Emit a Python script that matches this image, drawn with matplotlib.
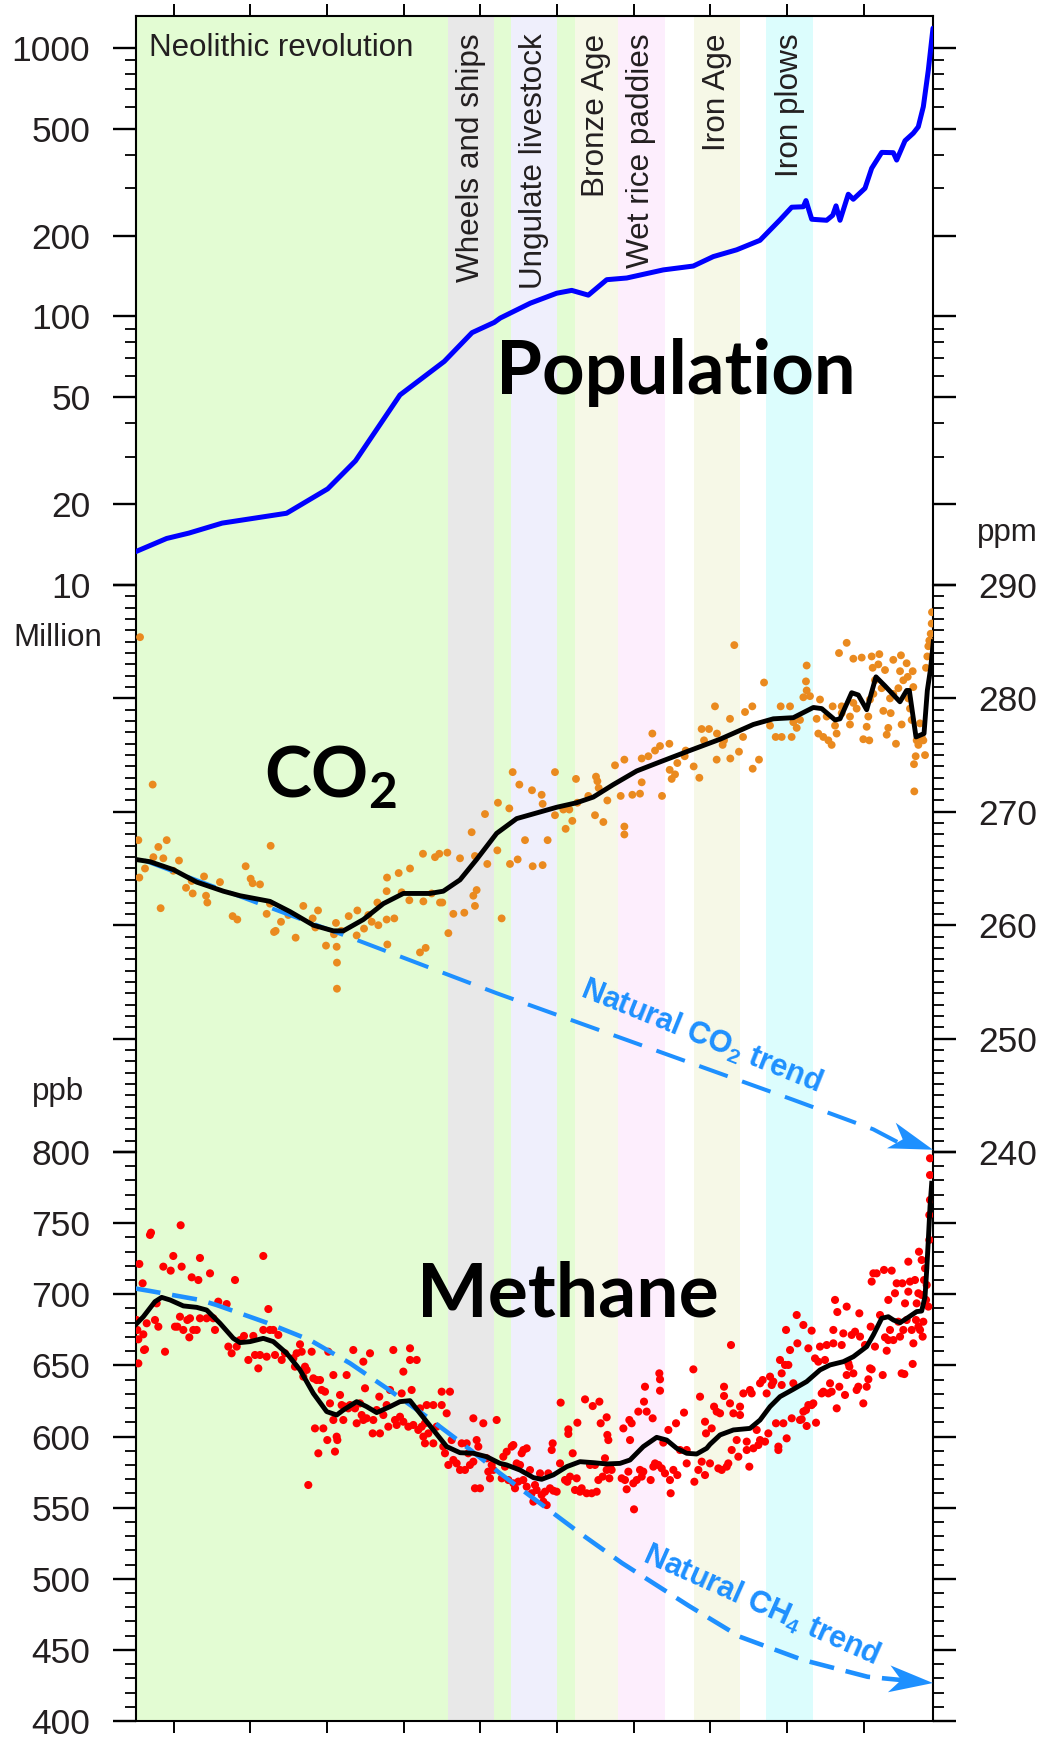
import numpy as np
import matplotlib
matplotlib.use("Agg")
import matplotlib.pyplot as plt
from matplotlib.patches import Polygon
from matplotlib.transforms import IdentityTransform, blended_transform_factory
from matplotlib.ticker import FixedLocator, FixedFormatter, MultipleLocator, NullFormatter

plt.rcParams["font.family"] = ["Liberation Sans", "DejaVu Sans"]
plt.rcParams["mathtext.fontset"] = "custom"
plt.rcParams["mathtext.rm"] = "Lato:bold"
plt.rcParams["mathtext.sf"] = "Liberation Sans:bold"

# ---- time axis (years before present) ----
x_left, x_right = 10500, 97
xtick_years = [10000, 9000, 8000, 7000, 6000, 5000, 4000, 3000, 2000, 1000]

# ---- cultural / technological periods ----
band_names = ["Neolithic revolution", "Wheels and ships", "Ungulate livestock",
              "Bronze Age", "Wet rice paddies", "Iron Age", "Iron plows"]
band_start = [10500, 6425, 5600, 4765, 4212, 3212, 2270]
band_end = [4765, 5830, 5005, 4212, 3590, 2614, 1662]
band_colors = ["#e3fcd3", "#e8e8e8", "#efeffc", "#f6f8e7", "#fdeefd", "#f6f8e7", "#dcfdfd"]

# ---- population (millions) ----
pop_years = [10500, 10094, 9805, 9369, 8529, 7993, 7630, 7050, 6472, 6110, 5820, 5742,
             5350, 5005, 4810, 4593, 4353, 4092, 3615, 3224, 2963, 2658, 2354, 2092,
             1940, 1789, 1754, 1679, 1484, 1405, 1362, 1310, 1202, 1137, 984, 897,
             766, 615, 571, 462, 354, 289, 223, 158, 97]
pop_million = [13.3, 14.9, 15.6, 17.0, 18.5, 22.8, 29, 51, 68, 87, 95, 98.6,
               112, 122, 125, 120, 137, 139, 149, 154, 167, 177, 192, 229,
               255, 256, 270, 230, 228, 238, 258, 228, 285, 273, 300, 356,
               408, 407, 382, 451, 481, 508, 604, 826, 1183]
pop_ticks = [10, 20, 50, 100, 200, 500, 1000]
pop_minor = [30, 40, 60, 70, 80, 90, 300, 400, 600, 700, 800, 900]

# ---- CO2 ice-core samples (ppm) ----
co2_years = [10441, 10463, 10450, 10376, 10276, 10267, 10202, 10172, 10137, 10093,
             10007, 9933, 9841, 9767, 9754, 9606, 9580, 9563, 9398, 9233,
             9172, 9063, 8998, 8972, 8876, 8789, 8737, 8746, 8693, 8672,
             8602, 8506, 8411, 8311, 8189, 8154, 8119, 8015, 7911, 7885,
             7876, 7872, 7872, 7815, 7719, 7615, 7606, 7519, 7463, 7419,
             7332, 7345, 7224, 7215, 7224, 7219, 7124, 7067, 7028, 6928,
             6919, 6789, 6745, 6715, 6750, 6637, 6593, 6537, 6528, 6498,
             6432, 6419, 6354, 6267, 6211, 6115, 6093, 6072, 6072, 6050,
             5941, 5911, 5780, 5772, 5724, 5624, 5615, 5580, 5515, 5493,
             5419, 5328, 5319, 5202, 5189, 5189, 5124,
             5028, 5028, 4919, 4889, 4841, 4802, 4754, 4736, 4593, 4506,
             4493, 4475, 4458, 4397, 4345, 4245, 4171, 4123, 4123, 4123,
             4019, 3919, 3897, 3897, 3810, 3758, 3723, 3658, 3632, 3536,
             3532, 3506, 3462, 3432, 3336, 3323, 3219, 3145, 3115, 3084,
             3019, 2941, 2919, 2915, 2841, 2823, 2745, 2741, 2689, 2628,
             2575, 2549, 2454, 2449, 2367, 2301, 2223, 2149, 2084, 2071,
             1962, 1941, 1919, 1875, 1832, 1788, 1754, 1745, 1745, 1702,
             1615, 1593, 1571, 1528, 1484, 1462, 1419, 1406, 1375, 1354,
             1323, 1288, 1223, 1180, 1180, 1136, 1093, 1027, 1006, 962,
             941, 928, 919, 897, 884, 854, 810, 797, 767, 745,
             723, 701, 680, 658, 649, 615, 580, 549, 527, 515,
             506, 484, 441, 427, 419, 397, 375, 362, 345, 341,
             323, 310, 288, 267, 245, 223, 201, 188, 171, 158,
             145, 127, 114, 110, 354, 615, 875, 1136, 1288]
co2_ppm = [285.4, 267.5, 264.2, 265.0, 272.4, 266.0, 266.9, 261.5, 265.9, 267.5,
           264.8, 265.7, 263.3, 263.9, 262.8, 264.3, 262.6, 262.0, 263.8, 260.8,
           260.5, 265.2, 264.1, 263.7, 263.6, 261.0, 267.0, 261.9, 259.4, 259.5,
           260.3, 260.9, 258.9, 261.7, 260.6, 259.8, 261.3, 258.2, 259.2, 260.2,
           258.1, 256.7, 254.4, 259.5, 260.8, 259.1, 261.3, 259.7, 260.9, 260.3,
           260.0, 262.0, 260.5, 258.3, 263.0, 264.2, 260.6, 264.6, 262.9, 262.2,
           265.0, 257.6, 262.1, 258.0, 266.3, 262.8, 266.0, 266.3, 262.0, 262.0,
           266.4, 259.3, 261.0, 265.9, 261.1, 268.2, 262.6, 266.1, 261.7, 263.1,
           269.8, 265.4, 266.6, 270.8, 260.6, 270.3, 265.4, 273.5, 265.8, 272.4,
           267.5, 271.9, 265.2, 271.5, 270.7, 265.3, 267.5,
           273.5, 269.7, 270.2, 268.5, 270.2, 269.2, 272.9, 270.8, 271.4, 269.7,
           273.1, 272.7, 272.1, 269.1, 271.0, 274.1, 271.4, 274.6, 268.7, 268.0,
           271.5, 271.6, 274.7, 272.6, 274.9, 276.9, 275.4, 275.8, 271.4, 276.0,
           273.7, 272.9, 273.3, 274.3, 274.9, 275.4, 274.0, 273.0, 277.3, 276.3,
           277.3, 279.3, 274.6, 276.9, 275.9, 276.3, 278.2, 274.7, 284.7, 275.3,
           276.6, 278.8, 279.3, 273.8, 274.6, 281.4, 277.6, 276.6, 279.3, 276.6,
           279.3, 276.6, 277.9, 277.4, 278.1, 280.1, 281.5, 282.9, 280.7, 280.2,
           278.2, 276.9, 279.9, 276.6, 278.4, 276.3, 275.9, 279.3, 277.6, 276.9,
           284.0, 279.3, 284.9, 278.4, 277.7, 283.5, 279.1, 283.6, 276.4, 277.5,
           278.4, 276.3, 279.9, 283.7, 282.7, 281.6, 283.0, 283.9, 280.9, 278.9,
           282.5, 276.8, 277.4, 280.0, 278.7, 283.4, 276.0, 280.9, 282.4, 283.8,
           277.7, 281.6, 283.1, 281.9, 280.0, 279.1, 278.1, 282.4, 274.2, 271.8,
           274.9, 276.3, 275.9, 277.8, 276.6, 276.3, 275.0, 282.7, 283.7, 284.6,
           285.1, 285.7, 286.6, 287.6, 281.0, 280.4, 280.4, 279.6, 278.7]

# smoothed CO2 record
co2_fit_years = [10502, 10311, 10007, 9702, 9354, 9137, 8746, 8485, 8180, 7919,
                 7789, 7528, 7267, 7006, 6658, 6485, 6267, 6050, 5789, 5528,
                 5267, 5006, 4745, 4528, 4267, 3962, 3658, 3310, 2875, 2441,
                 2180, 1919, 1658, 1549, 1375, 1310, 1158, 1071, 962, 841,
                 723, 528, 441, 406, 319, 214, 171, 127, 93]
co2_fit_ppm = [265.8, 265.6, 264.9, 263.8, 263.0, 262.6, 262.1, 261.2, 260.0, 259.5,
               259.5, 260.5, 261.9, 262.8, 262.8, 263.0, 264.0, 265.8, 268.1, 269.4,
               269.9, 270.4, 270.8, 271.3, 272.4, 273.6, 274.4, 275.3, 276.4, 277.7,
               278.2, 278.3, 279.2, 279.1, 278.1, 278.2, 280.5, 280.3, 279.0, 281.9,
               281.1, 279.7, 280.7, 280.7, 276.6, 276.9, 280.7, 282.7, 285.0]

# natural CO2 trend (no land use)
co2_trend_years = [10384, 8768, 7614, 5788, 1919, 876, 97]
co2_trend_ppm = [265.7, 261.6, 258.7, 254.0, 244.6, 242.0, 240.2]

# ---- CH4 ice-core samples (ppb) ----
ch4_years = [10485, 10476, 10463, 10463, 10450, 10407, 10398, 10389, 10376, 10354,
             10311, 10298, 10246, 10224, 10202, 10137, 10115, 10041, 10007, 9985,
             9954, 9920, 9911, 9898, 9876, 9824, 9798, 9789, 9767, 9746,
             9702, 9680, 9659, 9659, 9572, 9528, 9485, 9463, 9420, 9311,
             9289, 9246, 9202, 9180, 9137, 9085, 9028, 8963, 8941, 8898,
             8876, 8833, 8833, 8789, 8767, 8746, 8702, 8680, 8637, 8593,
             8550, 8441, 8420, 8398, 8354, 8332, 8289, 8311, 8267, 8246,
             8202, 8180, 8159, 8137, 8115, 8093, 8072, 8050, 8028, 7998,
             7985, 7963, 7919, 7919, 7898, 7876, 7867, 7832, 7811, 7789,
             7767, 7746, 7724, 7702, 7659, 7637, 7615, 7572, 7550, 7528,
             7528, 7506, 7485, 7441, 7406, 7398, 7354, 7320, 7311, 7267,
             7224, 7202, 7180, 7137, 7115, 7093, 7050, 7028, 7006, 7006,
             6941, 6919, 6919, 6898, 6876, 6832, 6811, 6789, 6767, 6745,
             6724, 6724, 6702, 6680, 6615, 6615, 6572, 6506, 6506, 6485,
             6463, 6441, 6419, 6398, 6376, 6354, 6311, 6267, 6245, 6202,
             6180, 6159, 6137, 6093, 6093, 6072, 6050, 6028, 6006, 5963,
             5919, 5898, 5876, 5854, 5832, 5789,
             5723, 5702, 5680, 5658, 5636, 5593, 5571, 5571, 5549, 5528,
             5506, 5484, 5463, 5441, 5441, 5397, 5397, 5354, 5332, 5310,
             5289, 5267, 5223, 5202, 5180, 5158, 5136, 5115, 5093, 5071,
             5058, 5049, 5006, 4962, 4954, 4897, 4867, 4854, 4854, 4832,
             4797, 4767, 4745, 4736, 4702, 4680, 4636, 4615, 4571, 4549,
             4536, 4506, 4484, 4462, 4449, 4432, 4406, 4376, 4354, 4354,
             4345, 4332, 4319, 4310, 4289, 4158, 4136, 4115, 4093, 4071,
             4058, 4049, 4028, 4006, 3997, 3962, 3941, 3919, 3897, 3876,
             3867, 3854, 3832, 3780, 3754, 3745, 3723, 3680, 3667, 3658,
             3658, 3636, 3615, 3593, 3549, 3528, 3519, 3484, 3449, 3432,
             3397, 3345, 3310, 3310, 3223, 3210, 3158,
             3136, 3114, 3071, 3058, 3071, 3006, 2984, 2953, 2919, 2897,
             2875, 2853, 2823, 2823, 2788, 2767, 2745, 2723, 2732, 2701,
             2658, 2636, 2614, 2614, 2571, 2527, 2527, 2493, 2484, 2462,
             2440, 2397, 2375, 2353, 2353, 2319, 2288, 2267, 2245, 2223,
             2201, 2180, 2145, 2114, 2114, 2093, 2071, 2071, 2049, 2027,
             2014, 2006, 1984, 1962, 1940, 1919, 1875, 1866, 1832, 1810,
             1788, 1788, 1753, 1745, 1723, 1723, 1680, 1680, 1658, 1636,
             1623, 1593, 1571, 1549, 1527, 1506, 1484, 1462, 1440, 1419,
             1397, 1397, 1375, 1353, 1345, 1319, 1288, 1267, 1245, 1223,
             1223, 1201, 1188, 1158, 1136, 1114, 1093, 1071, 1058, 1049,
             1006, 984, 962, 940, 918, 910, 897, 897, 875, 854,
             832, 788, 753, 736, 723, 701, 680, 680, 658, 636,
             614, 593, 571, 549, 527, 506, 497, 484, 471, 462,
             440, 419, 419, 397, 375, 362, 353, 332, 319, 310,
             288, 288, 280, 266, 245, 245, 232, 223, 214, 201,
             188, 179, 158, 145, 145, 136, 136, 136]
ch4_ppb = [681.9, 674.9, 668.3, 651.4, 721.3, 707.7, 671.8, 660.8, 661.3, 679.6,
           741.7, 743.3, 681.9, 693.6, 677.2, 719.4, 659.6, 716.6, 726.9, 677.2,
           677.2, 684.2, 748.5, 719.4, 674.9, 681.9, 669.7, 683.1, 711.9, 674.9,
           674.9, 710.0, 725.5, 683.1, 683.1, 714.7, 683.1, 674.9, 694.8, 693.1,
           663.2, 658.5, 710.0, 663.2, 667.8, 670.7, 653.8, 670.7, 657.3, 647.9,
           657.3, 726.9, 674.9, 656.1, 689.6, 674.9, 674.9, 657.3, 671.4, 653.8,
           658.5, 655.0, 649.1, 658.5, 664.8, 659.6, 649.1, 642.1, 646.8, 565.9,
           659.6, 640.9, 605.7, 639.7, 588.2, 639.7, 632.7, 605.7, 631.5, 597.5,
           659.6, 623.3, 611.6, 643.2, 589.4, 599.9, 597.5, 629.2, 622.1, 611.6,
           621.0, 643.2, 619.8, 622.1, 660.8, 619.8, 609.3, 623.3, 615.1, 652.6,
           611.6, 633.9, 612.8, 658.5, 602.2, 611.6, 618.6, 628.0, 602.2, 615.1,
           622.1, 606.9, 632.7, 660.8, 611.6, 608.1, 613.9, 630.3, 610.4, 645.6,
           606.9, 662.0, 653.8, 632.7, 608.1, 653.8, 604.6, 619.8, 606.9, 599.9,
           609.3, 595.2, 622.1, 602.2, 622.1, 595.2, 606.9, 622.1, 631.5, 592.9,
           588.2, 616.3, 580.0, 631.5, 597.5, 583.5, 581.1, 576.5, 595.2, 576.5,
           595.2, 588.2, 580.0, 612.8, 582.3, 563.6, 597.5, 592.9, 563.6, 609.3,
           584.7, 575.3, 570.6, 580.0, 576.5, 611.6,
           570.6, 585.8, 578.8, 589.3, 569.4, 592.9, 594.0, 567.1, 563.6, 581.1,
           568.3, 580.0, 588.2, 569.4, 590.5, 591.7, 564.7, 576.4, 560.1, 554.2,
           565.9, 562.4, 574.1, 558.9, 554.2, 561.2, 551.8, 574.1, 563.6, 590.5,
           595.2, 561.9, 561.2, 581.1, 623.8, 569.4, 568.2, 605.0, 601.8, 571.8,
           588.2, 562.4, 570.6, 609.7, 561.2, 563.6, 626.1, 560.1, 580.0, 560.1,
           621.4, 580.0, 561.2, 569.4, 624.5, 609.3, 571.8, 584.7, 613.5, 576.5,
           601.1, 597.5, 570.6, 578.8, 576.5, 570.6, 605.7, 569.4, 562.9, 575.3,
           611.6, 597.5, 609.3, 567.1, 548.8, 569.4, 617.5, 576.5, 571.8, 575.3,
           624.5, 635.0, 617.5, 569.4, 612.8, 578.8, 581.1, 580.0, 644.4, 640.2,
           632.2, 577.6, 595.7, 574.1, 604.6, 569.4, 560.1, 576.5, 609.3, 572.9,
           590.5, 616.8, 581.1, 590.5, 647.2, 568.2, 576.5,
           628.0, 582.3, 572.9, 602.2, 610.4, 581.1, 605.7, 621.0, 617.5, 577.6,
           616.3, 576.5, 635.0, 628.5, 578.8, 581.1, 623.3, 590.5, 664.3, 616.3,
           597.5, 585.8, 621.0, 615.1, 630.3, 596.4, 590.5, 578.8, 632.7, 630.3,
           591.7, 604.6, 594.0, 597.5, 637.4, 639.7, 596.4, 630.3, 602.2, 642.1,
           636.2, 638.6, 609.3, 592.9, 590.5, 653.8, 644.4, 636.2, 609.3, 650.3,
           674.9, 598.7, 650.3, 660.8, 612.8, 637.4, 685.4, 665.5, 611.6, 612.1,
           678.4, 617.5, 618.6, 607.4, 662.0, 622.1, 674.4, 622.1, 623.3, 654.9,
           609.7, 652.6, 663.2, 630.3, 631.5, 653.8, 664.3, 630.3, 637.4, 631.5,
           665.5, 674.9, 696.0, 619.8, 687.5, 635.0, 664.3, 672.5, 629.2, 691.3,
           643.2, 651.4, 649.1, 671.4, 644.4, 673.7, 632.7, 635.0, 686.6, 670.2,
           623.3, 664.3, 635.0, 640.2, 647.9, 677.2, 647.2, 708.9, 714.7, 663.2,
           714.7, 685.4, 643.2, 717.1, 669.7, 660.3, 696.0, 667.8, 674.9, 716.6,
           667.8, 700.7, 707.7, 680.7, 670.2, 644.4, 707.7, 674.9, 643.9, 693.6,
           681.9, 701.8, 722.9, 708.9, 674.9, 651.0, 665.5, 710.0, 681.9, 693.6,
           700.7, 677.2, 729.9, 674.9, 699.5, 724.1, 670.2, 680.7, 710.0, 718.2,
           696.0, 706.5, 691.3, 738.2, 755.7, 766.3, 783.8, 795.6]

# smoothed CH4 record
ch4_fit_years = [10502, 10398, 10246, 10159, 10050, 9876, 9702, 9572, 9398, 9224,
                 9137, 9006, 8833, 8702, 8528, 8354, 8180, 8006, 7876, 7789,
                 7615, 7485, 7354, 7180, 7050, 6919, 6789, 6615, 6441, 6267,
                 6093, 5919, 5745, 5658, 5484, 5310, 5202, 5049, 4875, 4702,
                 4528, 4354, 4180, 4049, 3876, 3702, 3571, 3441, 3310, 3180,
                 3049, 3006, 2875, 2701, 2484, 2353, 2223, 2093, 1919, 1745,
                 1571, 1440, 1267, 1136, 962, 875, 766, 680, 614, 527,
                 419, 310, 245, 201, 179, 158, 136, 114]
ch4_fit_ppb = [678.4, 684.2, 694.8, 697.8, 696.0, 691.8, 690.8, 688.9, 679.6, 669.0,
               666.0, 666.7, 669.0, 666.7, 658.5, 646.8, 630.3, 617.5, 615.1, 618.6,
               624.5, 621.0, 616.8, 621.0, 624.5, 625.2, 616.3, 604.6, 592.9, 588.6,
               588.2, 585.8, 581.1, 580.0, 576.4, 571.1, 569.9, 573.0, 578.8, 582.3,
               581.6, 580.7, 581.1, 583.5, 592.9, 599.4, 597.5, 591.7, 588.2, 587.7,
               591.7, 594.5, 601.1, 604.6, 605.7, 611.6, 621.0, 628.0, 633.2, 638.6,
               646.8, 650.3, 652.6, 656.1, 663.2, 671.4, 683.1, 684.2, 681.9, 680.0,
               683.8, 687.8, 688.2, 698.3, 717.1, 738.2, 761.6, 778.0]

# natural CH4 trend
ch4_trend_years = [10500, 10311, 9659, 9441, 8789, 8224, 7702, 7223, 6701, 6267,
                   5745, 4701, 4153, 3283, 2619, 1800, 951, 97]
ch4_trend_ppb = [704.0, 702.3, 696.0, 692.4, 680.0, 667.8, 651.5, 633.9, 613.9, 596.3,
                 574.1, 532.0, 511.0, 481.0, 459.3, 443.0, 431.1, 426.7]

# ---- figure layout (pixels) ----
W, H = 1053, 1742
L, R = 135.5, 933
TOP, Y_POP, Y_CO2, BOT = 16.5, 585, 1152, 1721
INK = "#231f20"
TREND_BLUE = "#1e90ff"


def rect(x0, y0, x1, y1):
    return [x0 / W, 1 - y1 / H, (x1 - x0) / W, (y1 - y0) / H]


def arrow_head(ax, p_from, p_to, length=44, half=13.5, notch=12):
    a = ax.transData.transform(p_from)
    b = ax.transData.transform(p_to)
    u = (b - a) / np.hypot(*(b - a))
    n = np.array([-u[1], u[0]])
    pts = [b, b - length * u + half * n, b - (length - notch) * u, b - length * u - half * n]
    ax.add_patch(Polygon(pts, closed=True, transform=IdentityTransform(),
                         facecolor=TREND_BLUE, edgecolor="none", clip_on=False, zorder=6))


fig = plt.figure(figsize=(W / 100, H / 100), dpi=100)

bg = fig.add_axes(rect(L, TOP, R, BOT), zorder=0)
bg.set_xlim(x_left, x_right)
bg.set_ylim(0, 1)
bg.axis("off")
for s, e, c in zip(band_start, band_end, band_colors):
    bg.axvspan(s, e, color=c, lw=0)

ax_pop = fig.add_axes(rect(L, TOP, R, Y_POP), zorder=2)
ax_co2 = fig.add_axes(rect(L, Y_POP, R, Y_CO2), zorder=2)
ax_ch4 = fig.add_axes(rect(L, Y_CO2, R, BOT), zorder=2)

for ax in (ax_pop, ax_co2, ax_ch4):
    ax.set_facecolor("none")
    ax.set_xlim(x_left, x_right)
    ax.set_xticks(xtick_years)
    for sp in ax.spines.values():
        sp.set_linewidth(1.5)
    ax.tick_params(axis="y", which="major", direction="out", length=16.5, width=1.7,
                   labelsize=25.5, pad=16, labelcolor=INK, left=True, right=True)
    ax.tick_params(axis="y", which="minor", direction="out", length=8, width=1.3,
                   left=True, right=True)
    ax.tick_params(axis="x", which="major", direction="out", length=8.6, width=1.4,
                   labelbottom=False, labeltop=False)
    ax.tick_params(axis="x", which="minor", bottom=False, top=False)

ax_pop.spines["bottom"].set_visible(False)
ax_co2.spines["top"].set_visible(False)
ax_co2.spines["bottom"].set_visible(False)
ax_ch4.spines["top"].set_visible(False)
ax_pop.tick_params(axis="x", top=True, bottom=False)
ax_co2.tick_params(axis="x", top=False, bottom=False)
ax_ch4.tick_params(axis="x", top=False, bottom=True)

# population panel
ax_pop.set_yscale("log")
ax_pop.set_ylim(10, 1308)
ax_pop.yaxis.set_major_locator(FixedLocator(pop_ticks))
ax_pop.yaxis.set_major_formatter(FixedFormatter([str(v) for v in pop_ticks]))
ax_pop.yaxis.set_minor_locator(FixedLocator(pop_minor))
ax_pop.yaxis.set_minor_formatter(NullFormatter())
ax_pop.tick_params(axis="y", labelleft=True, labelright=False)
ax_pop.plot(pop_years, pop_million, color="#0000ff", lw=3.6, solid_joinstyle="round",
            solid_capstyle="round", zorder=4)

# CO2 panel
ax_co2.set_ylim(240, 290)
ax_co2.yaxis.set_major_locator(MultipleLocator(10))
ax_co2.yaxis.set_minor_locator(MultipleLocator(1))
ax_co2.tick_params(axis="y", labelleft=False, labelright=True)
ax_co2.scatter(co2_years, co2_ppm, s=32, color="#ea8a1f", edgecolors="none", zorder=3)
ax_co2.plot(co2_trend_years[:-1] + [co2_trend_years[-1] + 300], co2_trend_ppm[:-1] + [co2_trend_ppm[-1] + 0.1],
            color=TREND_BLUE, lw=2.9, ls=(0, (7.5, 3.8)), zorder=4)
ax_co2.plot(co2_fit_years, co2_fit_ppm, color="black", lw=3.5, solid_joinstyle="round", zorder=5)

# CH4 panel
ax_ch4.set_ylim(400, 800)
ax_ch4.yaxis.set_major_locator(MultipleLocator(50))
ax_ch4.yaxis.set_minor_locator(MultipleLocator(10))
ax_ch4.tick_params(axis="y", labelleft=True, labelright=False)
ax_ch4.scatter(ch4_years, ch4_ppb, s=34, color="#ff0000", edgecolors="none", zorder=3)
ax_ch4.plot(ch4_trend_years[:-1] + [ch4_trend_years[-1] + 300], ch4_trend_ppb[:-1] + [ch4_trend_ppb[-1] + 1.5],
            color=TREND_BLUE, lw=3.3, ls=(0, (5.5, 2.6)), zorder=4)
ax_ch4.plot(ch4_fit_years, ch4_fit_ppb, color="black", lw=3.5, solid_joinstyle="round", zorder=5)

arrow_head(ax_co2, (co2_trend_years[-2], co2_trend_ppm[-2]), (co2_trend_years[-1], co2_trend_ppm[-1]))
arrow_head(ax_ch4, (ch4_trend_years[-2], ch4_trend_ppb[-2]), (ch4_trend_years[-1], ch4_trend_ppb[-1]))

# period labels
top_tf = blended_transform_factory(ax_pop.transData, ax_pop.transAxes)
ax_pop.text(10324, 0.971, band_names[0], transform=top_tf, ha="left", va="top",
            fontsize=22.5, color=INK, zorder=6)
for name, s, e in zip(band_names[1:], band_start[1:], band_end[1:]):
    ax_pop.text((s + e) / 2, 0.97, name, transform=top_tf, rotation=90, ha="center", va="top",
                fontsize=22.7, color=INK, zorder=6)

# panel titles
ax_pop.text(3449, 51.4, "Population", ha="center", va="baseline", fontsize=53.5,
            family="Lato", fontweight="bold", zorder=6)
ax_co2.text(8818, 271.25, r"CO$_\mathrm{2}$", ha="left", va="baseline", fontsize=51,
            family="Lato", fontweight="bold", zorder=6)
ax_ch4.text(4863, 684.5, "Methane", ha="center", va="baseline", fontsize=54,
            family="Lato", fontweight="bold", zorder=6)

ax_co2.text(3120, 250.2, r"Natural CO$_\mathsf{2}$ trend", rotation=-22, rotation_mode="anchor",
            ha="center", va="center", fontsize=22, fontweight="bold", color=TREND_BLUE, zorder=6)
ax_ch4.text(2340, 481.5, r"Natural CH$_\mathsf{4}$ trend", rotation=-24, rotation_mode="anchor",
            ha="center", va="center", fontsize=22, fontweight="bold", color=TREND_BLUE, zorder=6)

# unit labels
fig.text(57.5 / W, 1 - 638 / H, "Million", ha="center", va="center", fontsize=22.5, color=INK)
fig.text(1007.5 / W, 1 - 533 / H, "ppm", ha="center", va="center", fontsize=22.5, color=INK)
fig.text(57.8 / W, 1 - 1092 / H, "ppb", ha="center", va="center", fontsize=22.5, color=INK)

fig.savefig("out.png", dpi=100)
